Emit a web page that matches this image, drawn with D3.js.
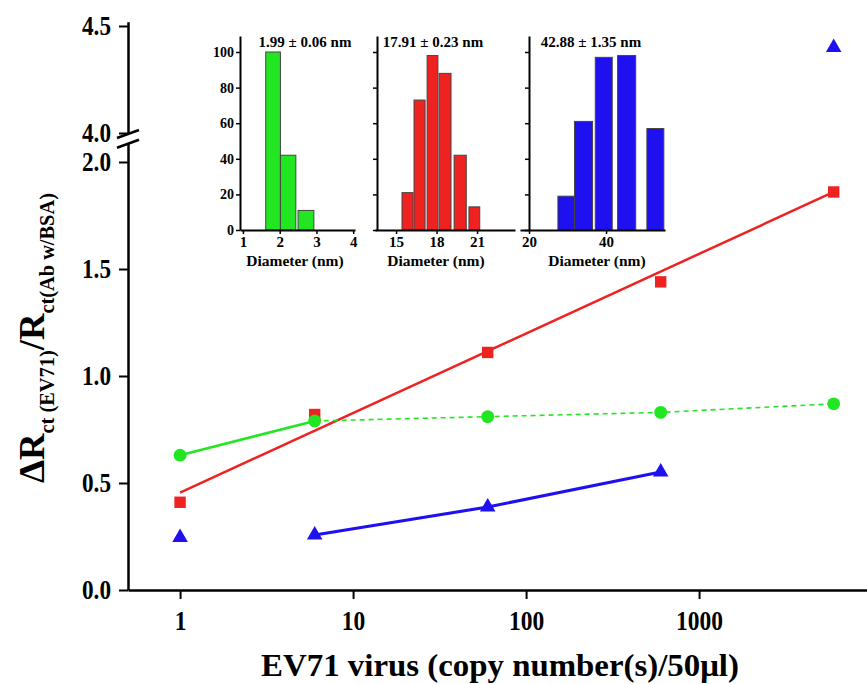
<!doctype html>
<html>
<head>
<meta charset="utf-8">
<title>EV71 impedance response</title>
<script src="https://cdn.jsdelivr.net/npm/d3@7"></script>
<style>
  body { margin: 0; background: white; }
  svg { display: block; }
  svg text { font-family: "Liberation Serif", "Times New Roman", serif; font-weight: bold; }
  .axis path, .axis line { stroke: black; }
</style>
</head>
<body>
<svg id="chart" width="867" height="684"></svg>
<script>
// main plot data
var copies = [1, 6, 60, 600, 6000];
var redVals = [0.41, 0.82, 1.11, 1.44, 1.86];
var greenVals = [0.63, 0.79, 0.81, 0.83, 0.87];
var blueVals = [0.245, 0.257, 0.388, 0.551, 4.40];
var redFit = [[1, 0.455], [6000, 1.86]];
var greenSolidIdx = [0, 1];
var greenDashIdx = [1, 2, 3, 4];
var blueLineIdx = [1, 2, 3];

var xMajor = [1, 10, 100, 1000];
var xMajorLabels = ['1', '10', '100', '1000'];
var yLoMajor = [0, 0.5, 1.0, 1.5, 2.0];
var yLoMinor = [0.25, 0.75, 1.25, 1.75];
var yHiMajor = [4.0, 4.5];
var yHiMinor = [4.25];

// inset histograms (diameter bins in nm, counts)
var hist1Bins = [[1.62, 2.02], [2.02, 2.44], [2.5, 2.93]];
var hist1Counts = [100, 42, 11];
var hist2Bins = [[15.44, 16.26], [16.33, 17.15], [17.3, 18.1], [18.19, 19.07], [19.3, 20.2], [20.4, 21.2]];
var hist2Counts = [21, 73, 98, 88, 42, 13];
var hist3Bins = [[27.5, 31.8], [31.8, 36.5], [37.2, 41.6], [43.0, 47.7], [50.6, 55.0]];
var hist3Counts = [19, 61, 97, 98, 57];
var histYTicks = [0, 20, 40, 60, 80, 100];
var histYMinor = [10, 30, 50, 70, 90];

var GREEN = '#22e622', RED = '#ef2222', BLUE = '#1e10ef';

var svg = d3.select('#chart');
var axX = 128, axY = 590, unit = 214;

var x = d3.scaleLog().domain([0.5, 10000]).range([axX, axX + Math.log10(20000) * 173]);
var yLo = d3.scaleLinear().domain([0, 2.09]).range([axY, axY - 2.09 * unit]);
var yHi = d3.scaleLinear().domain([4.0, 4.52]).range([133, 133 - 0.52 * unit]);
function yv(v) { return v >= 3 ? yHi(v) : yLo(v); }

// x axis
var xMinor = x.ticks().filter(function (d) { return d > 0.5 && d < 10000 && xMajor.indexOf(d) < 0; });
var gx = svg.append('g').attr('class', 'axis').attr('transform', 'translate(0,' + axY + ')');
gx.call(d3.axisBottom(x).tickValues(xMinor).tickSize(5).tickSizeOuter(0).tickFormat(''));
gx.call(d3.axisBottom(x).tickValues(xMajor).tickSize(9).tickSizeOuter(0)
  .tickFormat(function (d, i) { return xMajorLabels[i]; }));
gx.attr('font-family', null);
gx.select('.domain').attr('stroke-width', 2.5);
gx.selectAll('line').attr('stroke-width', 2);
gx.selectAll('text').attr('font-size', 28).attr('fill', 'black')
  .attr('y', 20).attr('transform', 'scale(0.84,1)');

// y axes (broken)
function yAxis(scale, major, minor) {
  var g = svg.append('g').attr('class', 'axis').attr('transform', 'translate(' + axX + ',0)');
  g.call(d3.axisLeft(scale).tickValues(minor).tickSize(5).tickSizeOuter(0).tickFormat(''));
  g.call(d3.axisLeft(scale).tickValues(major).tickSize(9).tickSizeOuter(0).tickFormat(d3.format('.1f')));
  g.attr('font-family', null);
  g.select('.domain').attr('stroke-width', 2.5);
  g.selectAll('line').attr('stroke-width', 2);
  g.selectAll('text').attr('font-size', 27).attr('fill', 'black')
    .attr('x', -17 / 0.86).attr('transform', 'scale(0.86,1)');
  return g;
}
yAxis(yLo, yLoMajor, yLoMinor);
yAxis(yHi, yHiMajor, yHiMinor);

// break marks
[yHi(4.0) + 1, yLo(2.09) + 1].forEach(function (yy) {
  svg.append('line').attr('x1', axX - 11).attr('y1', yy + 4).attr('x2', axX + 11).attr('y2', yy - 4)
    .attr('stroke', 'black').attr('stroke-width', 2.5);
});

// lines
var line = d3.line().x(function (d) { return x(d[0]); }).y(function (d) { return yv(d[1]); });
svg.append('path').datum(redFit).attr('d', line).attr('fill', 'none').attr('stroke', RED).attr('stroke-width', 2.5);
svg.append('path').datum(greenDashIdx.map(function (i) { return [copies[i], greenVals[i]]; }))
  .attr('d', line).attr('fill', 'none').attr('stroke', GREEN).attr('stroke-width', 1.6).attr('stroke-dasharray', '5,4');
svg.append('path').datum(greenSolidIdx.map(function (i) { return [copies[i], greenVals[i]]; }))
  .attr('d', line).attr('fill', 'none').attr('stroke', GREEN).attr('stroke-width', 2.5);
svg.append('path').datum(blueLineIdx.map(function (i) { return [copies[i], blueVals[i]]; }))
  .attr('d', line).attr('fill', 'none').attr('stroke', BLUE).attr('stroke-width', 3);

// markers
function markers(vals, type, size, color) {
  svg.append('g').selectAll('path').data(vals).enter().append('path')
    .attr('d', d3.symbol().type(type).size(size))
    .attr('transform', function (d, i) { return 'translate(' + x(copies[i]) + ',' + yv(d) + ')'; })
    .attr('fill', color);
}
markers(redVals, d3.symbolSquare, 130, RED);
markers(greenVals, d3.symbolCircle, 130, GREEN);
markers(blueVals, d3.symbolTriangle, 105, BLUE);

// axis titles
var xt = svg.append('text').attr('font-size', 31).attr('text-anchor', 'middle')
  .text('EV71 virus (copy number(s)/50\u03bcl)');
var xl = xt.node().getComputedTextLength();
xt.attr('transform', 'translate(500,676) scale(' + (478 / xl) + ',1)');

var yt = svg.append('text').attr('font-size', 36).attr('text-anchor', 'middle');
yt.append('tspan').text('\u0394R');
yt.append('tspan').attr('font-size', 20).attr('dy', 10).text('ct (EV71)');
yt.append('tspan').attr('dy', -10).text('/R');
yt.append('tspan').attr('font-size', 20).attr('dy', 10).text('ct(Ab w/BSA)');
var yl = yt.node().getComputedTextLength();
yt.attr('transform', 'translate(44,338) rotate(-90) scale(' + (290 / yl) + ',1)');

// insets
function inset(o) {
  var hx = d3.scaleLinear().domain(o.domain).range(o.range);
  var hy = d3.scaleLinear().domain([0, 109]).range([230, 230 - 109 * 1.78]);
  var g = svg.append('g');
  g.selectAll('rect').data(o.bins).enter().append('rect')
    .attr('x', function (d) { return hx(d[0]); })
    .attr('width', function (d) { return hx(d[1]) - hx(d[0]); })
    .attr('y', function (d, i) { return hy(o.counts[i]); })
    .attr('height', function (d, i) { return hy(0) - hy(o.counts[i]); })
    .attr('fill', o.color).attr('stroke', '#444').attr('stroke-width', 1);

  var ga = g.append('g').attr('class', 'axis').attr('transform', 'translate(0,' + hy(0) + ')');
  ga.call(d3.axisBottom(hx).tickValues(o.minor).tickSize(3).tickSizeOuter(0).tickFormat(''));
  ga.call(d3.axisBottom(hx).tickValues(o.major).tickSize(4).tickSizeOuter(0).tickPadding(2)
    .tickFormat(d3.format('d')));
  ga.attr('font-family', null);
  ga.select('.domain').attr('stroke-width', 2);
  ga.selectAll('line').attr('stroke-width', 1.5);
  ga.selectAll('text').attr('font-size', 15).attr('fill', 'black');

  var gy = g.append('g').attr('class', 'axis').attr('transform', 'translate(' + o.yAxisX + ',0)');
  gy.call(d3.axisLeft(hy).tickValues(histYMinor).tickSize(2).tickSizeOuter(0).tickFormat(''));
  gy.call(d3.axisLeft(hy).tickValues(histYTicks).tickSize(4).tickSizeOuter(0).tickPadding(2)
    .tickFormat(o.yLabels ? d3.format('d') : ''));
  gy.attr('font-family', null);
  gy.select('.domain').attr('stroke-width', 2);
  gy.selectAll('line').attr('stroke-width', 1.5);
  gy.selectAll('text').attr('font-size', 14).attr('fill', 'black');

  g.append('text').attr('x', o.titleX).attr('y', 47).attr('text-anchor', 'middle')
    .attr('font-size', 15).text(o.title);
  g.append('text').attr('x', o.labelX).attr('y', 266).attr('text-anchor', 'middle')
    .attr('font-size', 15.5).text('Diameter (nm)');
}

inset({ domain: [0.92, 4.05], range: [240, 355], yAxisX: 240, bins: hist1Bins, counts: hist1Counts,
  color: GREEN, major: [1, 2, 3, 4], minor: [1.5, 2.5, 3.5], yLabels: true,
  title: '1.99 \u00b1 0.06 nm', titleX: 305, labelX: 295 });
inset({ domain: [13.44, 23.81], range: [375, 515], yAxisX: 377, bins: hist2Bins, counts: hist2Counts,
  color: RED, major: [15, 18, 21], minor: [16.5, 19.5, 22.5], yLabels: false,
  title: '17.91 \u00b1 0.23 nm', titleX: 433, labelX: 436 });
inset({ domain: [17.66, 55.3], range: [520, 665], yAxisX: 529, bins: hist3Bins, counts: hist3Counts,
  color: BLUE, major: [20, 40], minor: [30, 50], yLabels: false,
  title: '42.88 \u00b1 1.35 nm', titleX: 591, labelX: 597 });
</script>
</body>
</html>
